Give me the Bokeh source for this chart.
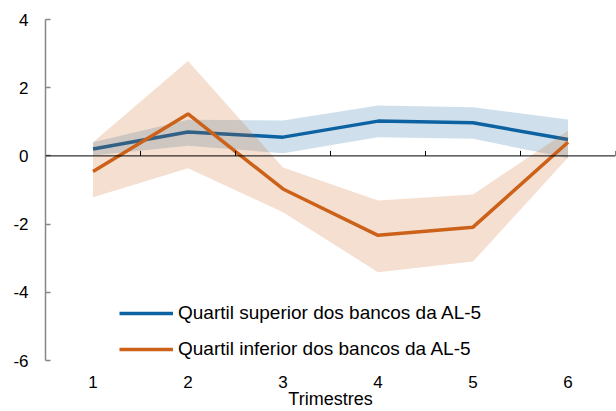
from bokeh.plotting import figure
from bokeh.models import Range1d, FixedTicker, Span, Legend, LegendItem, LinearAxis
from bokeh.embed import file_html
from bokeh.resources import INLINE

# ---- data ----
trimestres = [1, 2, 3, 4, 5, 6]
tick_labels = ["1", "2", "3", "4", "5", "6"]
sup_mid = [0.20, 0.70, 0.55, 1.02, 0.97, 0.48]
sup_hi = [0.40, 1.06, 1.04, 1.48, 1.43, 1.07]
sup_lo = [0.01, 0.30, 0.08, 0.55, 0.50, -0.06]
inf_mid = [-0.46, 1.23, -0.97, -2.33, -2.09, 0.40]
inf_hi = [0.40, 2.78, -0.34, -1.31, -1.13, 0.74]
inf_lo = [-1.21, -0.36, -1.65, -3.41, -3.10, -0.05]
y_ticks = [4, 2, 0, -2, -4, -6]
y_tick_labels = ["4", "2", "0", "-2", "-4", "-6"]
serie_sup = "Quartil superior dos bancos da AL-5"
serie_inf = "Quartil inferior dos bancos da AL-5"
x_title = "Trimestres"

BLUE = "#0d62a2"
ORANGE = "#cc6119"
FONT = "Liberation Sans"

W, H = 616, 411
MB_L, MB_R, MB_T, MB_B = 45, 1, 19, 51
Y0, Y1 = -6, 4

p = figure(width=W, height=H, output_backend="svg", toolbar_location=None,
           x_range=Range1d(0.5, 6.5), y_range=Range1d(Y0, Y1),
           x_axis_location=None, y_axis_location=None,
           min_border_left=MB_L, min_border_right=MB_R,
           min_border_top=MB_T, min_border_bottom=MB_B)
p.outline_line_color = None
p.xgrid.visible = False
p.ygrid.visible = False
p.background_fill_color = "white"
p.border_fill_color = "white"

# y axis
ya = LinearAxis(ticker=FixedTicker(ticks=y_ticks),
                major_label_overrides={t: l for t, l in zip(y_ticks, y_tick_labels)})
ya.axis_line_color = "#868686"
ya.axis_line_width = 1.5
ya.major_tick_line_color = "#868686"
ya.major_tick_line_width = 1.5
ya.major_tick_in = 5
ya.major_tick_out = 0
ya.minor_tick_line_color = None
ya.major_label_standoff = 17
ya.major_label_text_font = FONT
ya.major_label_text_font_size = "17px"
ya.major_label_text_color = "black"
p.add_layout(ya, "left")

# x axis (labels + title)
xa = LinearAxis(ticker=FixedTicker(ticks=trimestres),
                major_label_overrides={t: l for t, l in zip(trimestres, tick_labels)},
                axis_label=x_title)
xa.axis_line_color = None
xa.major_tick_line_color = None
xa.minor_tick_line_color = None
xa.major_tick_in = 0
xa.major_tick_out = 0
xa.major_label_standoff = 15
xa.major_label_text_font = FONT
xa.major_label_text_font_size = "17px"
xa.major_label_text_color = "black"
xa.axis_label_standoff = -2
xa.axis_label_text_font = FONT
xa.axis_label_text_font_size = "18px"
xa.axis_label_text_font_style = "normal"
xa.axis_label_text_color = "black"
p.add_layout(xa, "below")

# bands and lines
p.varea(x=trimestres, y1=sup_lo, y2=sup_hi, fill_color=BLUE, fill_alpha=0.2)
r_sup = p.line(trimestres, sup_mid, line_color=BLUE, line_width=3.5)
p.varea(x=trimestres, y1=inf_lo, y2=inf_hi, fill_color=ORANGE, fill_alpha=0.2)
r_inf = p.line(trimestres, inf_mid, line_color=ORANGE, line_width=3.5)

# zero line with category-boundary ticks
p.add_layout(Span(location=0, dimension="width", line_color="black", line_width=1))
px_per_unit = (H - MB_T - MB_B) / (Y1 - Y0)
bounds = [t + 0.5 for t in trimestres]
p.segment(x0=bounds, y0=[0] * len(bounds), x1=bounds, y1=[5 / px_per_unit] * len(bounds),
          line_color="black", line_width=1)

# legend
legend = Legend(items=[LegendItem(label=serie_sup, renderers=[r_sup]),
                       LegendItem(label=serie_inf, renderers=[r_inf])],
                location=(74, 0), orientation="vertical",
                glyph_width=54, glyph_height=18, label_height=18, spacing=14,
                label_standoff=5, padding=0, margin=0,
                border_line_color=None, background_fill_alpha=0,
                label_text_font=FONT, label_text_font_size="19px",
                label_text_color="black")
p.add_layout(legend, "center")

open("out.html", "w").write(file_html(p, INLINE))
